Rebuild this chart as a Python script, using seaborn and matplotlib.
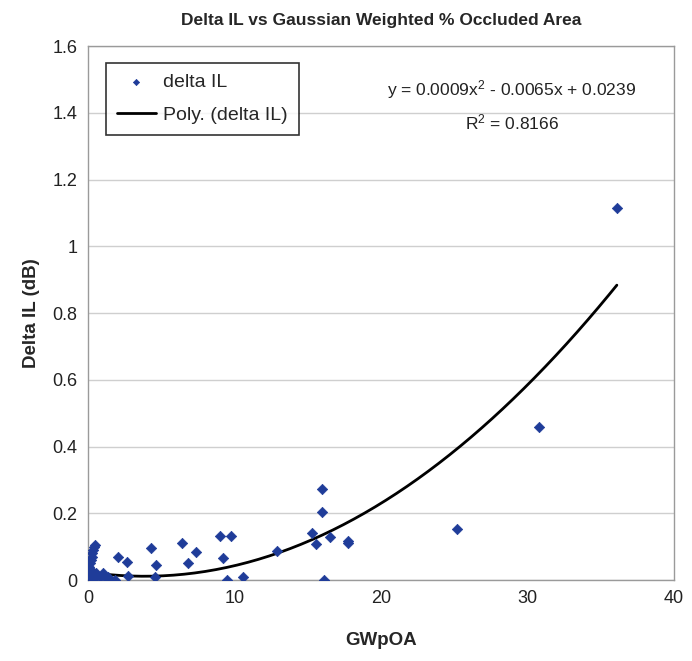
import matplotlib
matplotlib.use('Agg')
import matplotlib.pyplot as plt
import matplotlib.ticker as ticker
import seaborn as sns
import numpy as np
import pandas as pd

# Data
gwpoa = [0.05, 0.1, 0.15, 0.2, 0.1, 0.15, 0.2, 0.3, 0.25, 0.35, 0.45, 0.5, 0.55, 0.3,
         0.6, 0.8, 1.0, 1.2, 1.4, 1.85, 2.07, 2.64, 2.75, 4.3, 4.64, 4.57, 6.4, 7.37,
         6.85, 9.0, 9.8, 9.24, 9.47, 10.6, 12.9, 15.95, 15.95, 15.27, 15.56, 16.5,
         17.77, 17.77, 16.13, 25.2, 30.8, 36.1]
delta_il = [0.0, 0.01, 0.02, 0.03, 0.04, 0.05, 0.06, 0.07, 0.08, 0.09, 0.1, 0.105, 0.02,
            0.0, 0.015, 0.01, 0.02, 0.01, 0.01, 0.0, 0.07, 0.055, 0.012, 0.095, 0.045,
            0.008, 0.112, 0.085, 0.052, 0.132, 0.132, 0.065, 0.0, 0.008, 0.088, 0.273,
            0.205, 0.14, 0.108, 0.128, 0.118, 0.11, 0.0, 0.153, 0.459, 1.116]

# trendline coefficients (x^2, x, 1) as drawn in the chart
poly_coefs = [0.00084, -0.0065, 0.0239]

x_ticks = [0, 10, 20, 30, 40]
y_ticks = [0, 0.2, 0.4, 0.6, 0.8, 1.0, 1.2, 1.4, 1.6]
equation_text = 'y = 0.0009x$^2$ - 0.0065x + 0.0239'
r2_text = 'R$^2$ = 0.8166'

df = pd.DataFrame({'GWpOA': gwpoa, 'Delta IL (dB)': delta_il})

# trendline over the data range
trend_x = np.linspace(min(gwpoa), max(gwpoa), 200)
trend = pd.DataFrame({'GWpOA': trend_x, 'Delta IL (dB)': np.polyval(poly_coefs, trend_x)})

sns.set_style('white')
plt.rcParams['font.family'] = ['Liberation Sans', 'DejaVu Sans']
plt.rcParams['mathtext.fontset'] = 'custom'
plt.rcParams['mathtext.rm'] = 'Liberation Sans'
plt.rcParams['mathtext.default'] = 'rm'

fig = plt.figure(figsize=(6.92, 6.61), dpi=100)
ax = fig.add_axes([0.127, 0.1225, 0.847, 0.8075])

# scatter of measurements
sns.scatterplot(data=df, x='GWpOA', y='Delta IL (dB)', ax=ax, marker='D', s=28,
                color='#1f3c99', edgecolor='#1f3c99', linewidth=0.5,
                label='delta IL', zorder=3)

# 2nd order polynomial trendline (Excel "Poly." trendline)
sns.lineplot(data=trend, x='GWpOA', y='Delta IL (dB)', ax=ax, color='black',
             linewidth=2, label='Poly. (delta IL)', zorder=2)

ax.set_xlim(0, 40)
ax.set_ylim(0, 1.6)
ax.set_xticks(x_ticks)
ax.set_yticks(y_ticks)
ax.yaxis.set_major_formatter(ticker.FuncFormatter(lambda v, p: f'{v:g}'))
ax.tick_params(axis='both', labelsize=13, length=4, direction='out', width=0.8,
               colors='#888888', labelcolor='#222222')
ax.grid(True, axis='y', color='#cfcfcf', linewidth=1.0)
ax.grid(False, axis='x')
for sp in ax.spines.values():
    sp.set_color('#9a9a9a')
    sp.set_linewidth(1.0)

ax.set_title('Delta IL vs Gaussian Weighted % Occluded Area', fontsize=12.5,
             fontweight='bold', pad=15)
ax.set_xlabel('GWpOA', fontsize=13.5, fontweight='bold', labelpad=18)
ax.set_ylabel('Delta IL (dB)', fontsize=13.5, fontweight='bold', labelpad=9)

leg = ax.legend(loc='upper left', bbox_to_anchor=(0.031, 0.969), borderaxespad=0,
                fontsize=14, frameon=True, fancybox=False, handlelength=2.0,
                handletextpad=0.4, borderpad=0.55, labelspacing=0.8,
                markerscale=0.6)
leg.get_frame().set_edgecolor('black')
leg.get_frame().set_linewidth(1.2)

ax.text(0.7235, 0.919, equation_text, transform=ax.transAxes, ha='center',
        va='center', fontsize=12.5, color='#222222')
ax.text(0.7235, 0.858, r2_text, transform=ax.transAxes, ha='center',
        va='center', fontsize=12.5, color='#222222')

fig.savefig('out.png', dpi=100)
